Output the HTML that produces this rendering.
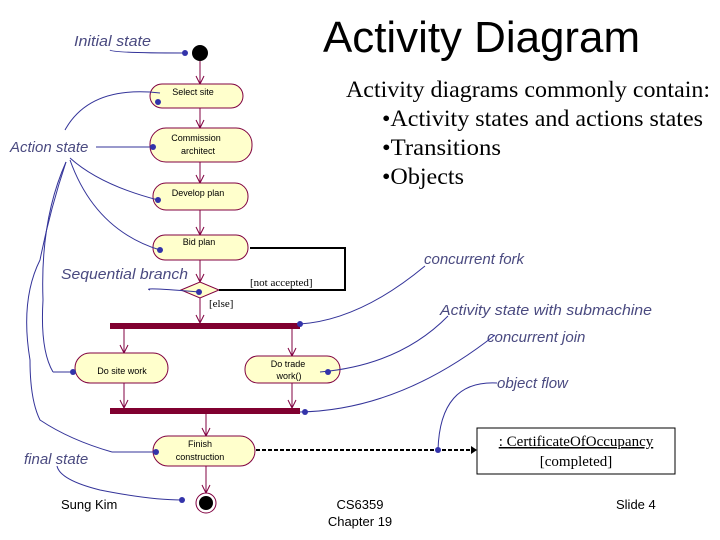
<!DOCTYPE html>
<html><head><meta charset="utf-8"><style>
body{margin:0;background:#fff}
svg{display:block}
.a{font-family:"Liberation Sans",sans-serif;font-style:italic;fill:#4a4a80;font-size:15px}
.n{font-family:"Liberation Sans",sans-serif;font-size:9px;fill:#000;text-anchor:middle}
.s{font-family:"Liberation Serif",serif;fill:#000}
</style></head><body>
<svg width="720" height="540" viewBox="0 0 720 540" xmlns="http://www.w3.org/2000/svg">
<defs><marker id="ar" markerWidth="10" markerHeight="10" refX="9" refY="5" orient="auto" markerUnits="userSpaceOnUse">
<path d="M1,1 L9,5 L1,9" fill="none" stroke="#800040" stroke-width="1"/></marker></defs>
<text x="323" y="52" font-family="Liberation Sans,sans-serif" font-size="44" fill="#000" textLength="317" lengthAdjust="spacingAndGlyphs">Activity Diagram</text>
<text class="s" x="346" y="97" font-size="23" textLength="364" lengthAdjust="spacingAndGlyphs">Activity diagrams commonly contain:</text>
<text class="s" x="382" y="126" font-size="23" textLength="321" lengthAdjust="spacingAndGlyphs">•Activity states and actions states</text>
<text class="s" x="382" y="155" font-size="23" textLength="119" lengthAdjust="spacingAndGlyphs">•Transitions</text>
<text class="s" x="382" y="184" font-size="23" textLength="82" lengthAdjust="spacingAndGlyphs">•Objects</text>

<g stroke="#800040" stroke-width="1" fill="none">
<line x1="200" y1="61" x2="200" y2="84" marker-end="url(#ar)"/>
<line x1="200" y1="108" x2="200" y2="128" marker-end="url(#ar)"/>
<line x1="200" y1="162" x2="200" y2="183" marker-end="url(#ar)"/>
<line x1="200" y1="210" x2="200" y2="235" marker-end="url(#ar)"/>
<line x1="200" y1="260" x2="200" y2="282" marker-end="url(#ar)"/>
<line x1="200" y1="298" x2="200" y2="323" marker-end="url(#ar)"/>
<line x1="124" y1="329" x2="124" y2="353" marker-end="url(#ar)"/>
<line x1="292" y1="329" x2="292" y2="356" marker-end="url(#ar)"/>
<line x1="124" y1="383" x2="124" y2="408" marker-end="url(#ar)"/>
<line x1="292" y1="383" x2="292" y2="408" marker-end="url(#ar)"/>
<line x1="206" y1="414" x2="206" y2="436" marker-end="url(#ar)"/>
<line x1="206" y1="466" x2="206" y2="493" marker-end="url(#ar)"/>
</g>
<circle cx="200" cy="53" r="8" fill="#000"/>
<g fill="#ffffcc" stroke="#800040" stroke-width="1">
<rect x="150" y="84" width="93" height="24" rx="12"/>
<rect x="150" y="128" width="102" height="34" rx="16"/>
<rect x="153" y="183" width="95" height="27" rx="13"/>
<rect x="153" y="235" width="95" height="25" rx="12"/>
<rect x="75" y="353" width="93" height="30" rx="15"/>
<rect x="245" y="356" width="95" height="27" rx="13"/>
<rect x="153" y="436" width="102" height="30" rx="15"/>
<path d="M181,290 L200,282 L219,290 L200,298 Z"/>
</g>
<polyline points="250,248 345,248 345,290 219,290" fill="none" stroke="#000" stroke-width="2"/>
<rect x="110" y="323" width="190" height="6" fill="#800030"/>
<rect x="110" y="408" width="190" height="6" fill="#800030"/>
<circle cx="206" cy="503" r="10" fill="#fff" stroke="#800040"/>
<circle cx="206" cy="503" r="7" fill="#000"/>
<text class="n" x="193" y="95">Select site</text>
<text class="n" x="196" y="141">Commission</text>
<text class="n" x="198" y="154">architect</text>
<text class="n" x="198" y="196">Develop plan</text>
<text class="n" x="199" y="245">Bid plan</text>
<text class="n" x="122" y="374">Do site work</text>
<text class="n" x="288" y="367">Do trade</text>
<text class="n" x="289" y="379">work()</text>
<text class="n" x="200" y="447">Finish</text>
<text class="n" x="200" y="460">construction</text>
<text class="s" x="250" y="286" font-size="11">[not accepted]</text>
<text class="s" x="209" y="307" font-size="11">[else]</text>
<line x1="256" y1="450" x2="472" y2="450" stroke="#000" stroke-width="2" stroke-dasharray="4,2"/>
<path d="M471,446 L477,450 L471,454" fill="#000"/>
<rect x="477" y="428" width="198" height="46" fill="#fff" stroke="#000"/>
<text class="s" x="576" y="446" font-size="15" text-anchor="middle" text-decoration="underline">: CertificateOfOccupancy</text>
<text class="s" x="576" y="466" font-size="15" text-anchor="middle">[completed]</text>

<g class="a">
<text x="74" y="46" textLength="77" lengthAdjust="spacingAndGlyphs">Initial state</text>
<text x="10" y="152">Action state</text>
<text x="61" y="279" textLength="127" lengthAdjust="spacingAndGlyphs">Sequential branch</text>
<text x="424" y="264">concurrent fork</text>
<text x="440" y="315" textLength="212" lengthAdjust="spacingAndGlyphs">Activity state with submachine</text>
<text x="487" y="342">concurrent join</text>
<text x="497" y="388">object flow</text>
<text x="24" y="464">final state</text>
</g>
<g stroke="#333399" stroke-width="1" fill="none">
<path d="M110,50 Q112,53 185,53"/>
<path d="M65,130 Q90,85 160,93"/>
<path d="M96,147 L155,147"/>
<path d="M70,158 Q100,185 158,200"/>
<path d="M70,160 Q95,230 160,250"/>
<path d="M150,290 Q140,287 199,292"/>
<path d="M66,162 Q50,210 40,260 Q20,300 30,360 Q30,400 40,420 Q70,440 112,452"/>
<path d="M66,162 Q40,220 43,300 Q40,350 53,372"/>
<path d="M53,372 L72,372"/>
<path d="M425,266 Q360,320 300,324"/>
<path d="M448,316 Q400,365 320,372"/>
<path d="M495,335 Q400,410 300,412"/>
<path d="M497,383 Q440,380 438,450"/>
<path d="M57,466 Q60,480 100,490 Q150,500 182,500"/>
<path d="M112,452 L155,452"/>
</g>
<g fill="#3333aa">
<circle cx="185" cy="53" r="3"/><circle cx="158" cy="102" r="3"/><circle cx="153" cy="147" r="3"/>
<circle cx="158" cy="200" r="3"/><circle cx="160" cy="250" r="3"/><circle cx="199" cy="292" r="3"/>
<circle cx="73" cy="372" r="3"/><circle cx="156" cy="452" r="3"/><circle cx="182" cy="500" r="3"/>
<circle cx="300" cy="324" r="3"/><circle cx="328" cy="372" r="3"/><circle cx="305" cy="412" r="3"/>
<circle cx="438" cy="450" r="3"/>
</g>
<g font-family="Liberation Sans,sans-serif" font-size="13" fill="#000">
<text x="61" y="509">Sung Kim</text>
<text x="360" y="509" text-anchor="middle">CS6359</text>
<text x="360" y="526" text-anchor="middle">Chapter 19</text>
<text x="616" y="509">Slide 4</text>
</g>
</svg>
</body></html>
